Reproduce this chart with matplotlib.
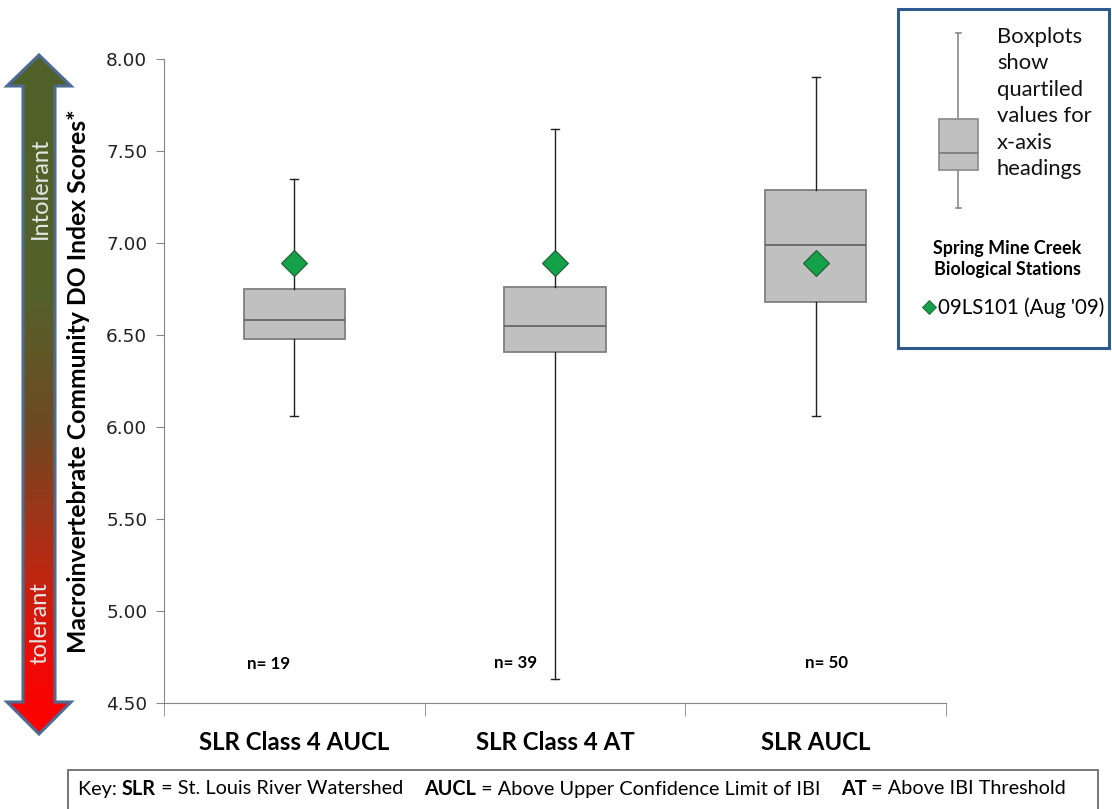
import numpy as np
import matplotlib
matplotlib.use("Agg")
import matplotlib.pyplot as plt
from matplotlib.patches import Polygon, Rectangle
from matplotlib.colors import LinearSegmentedColormap

# ---------------- data ----------------
categories = ["SLR Class 4 AUCL", "SLR Class 4 AT", "SLR AUCL"]
whisker_low = [6.06, 4.63, 6.06]
q1_values = [6.48, 6.41, 6.68]
medians = [6.58, 6.55, 6.99]
q3_values = [6.75, 6.76, 7.29]
whisker_high = [7.35, 7.62, 7.90]
station_scores = [6.89, 6.89, 6.89]
n_labels = ["n= 19", "n= 39", "n= 50"]
n_label_y = [4.71, 4.72, 4.72]
n_label_x_offset = [-0.1, -0.15, 0.04]
y_ticks = [4.5, 5.0, 5.5, 6.0, 6.5, 7.0, 7.5, 8.0]
station_label = "09LS101 (Aug '09)"
# schematic legend box (illustrative, in pixels)
legend_glyph = dict(whislo=208, q1=170, med=153, q3=119, whishi=33)

W, H = 1112, 809
fig = plt.figure(figsize=(W / 100, H / 100), dpi=100)
FONT = "Lato"

# ---------------- main axes ----------------
ax = fig.add_axes([164 / W, 1 - 703 / H, (946 - 164) / W, (703 - 59) / H])
stats = []
for i in range(3):
    stats.append(dict(whislo=whisker_low[i], q1=q1_values[i], med=medians[i],
                      q3=q3_values[i], whishi=whisker_high[i], fliers=[]))
positions = [1, 2, 3]
ax.bxp(stats, positions=positions, widths=0.39, patch_artist=True, showfliers=False,
       boxprops=dict(facecolor="#C0C0C0", edgecolor="#7F7F7F", linewidth=1.3),
       medianprops=dict(color="#5F5F5F", linewidth=1.2),
       whiskerprops=dict(color="#202020", linewidth=1.0),
       capprops=dict(color="#202020", linewidth=1.0), capwidths=0.03)
ax.plot(positions, station_scores, linestyle="none", marker="D", markersize=13,
        markerfacecolor="#15A04A", markeredgecolor="#1E5C32", markeredgewidth=0.8, zorder=5)
for i in range(3):
    ax.text(positions[i] + n_label_x_offset[i], n_label_y[i], n_labels[i],
            ha="center", va="center", fontsize=12.2, fontweight="bold", family=FONT)

ax.set_xlim(0.5, 3.5)
ax.set_ylim(4.5, 8.0)
ax.set_yticks(y_ticks)
ax.set_yticklabels([f"{v:.2f}" for v in y_ticks], fontsize=13.3, color="#222222")
ax.set_xticks(positions)
ax.set_xticklabels(categories, fontsize=17.3, fontweight="bold", family=FONT)
ax.set_xticks([0.5, 1.5, 2.5, 3.5], minor=True)
ax.tick_params(axis="x", which="major", length=0, pad=20)
ax.tick_params(axis="x", which="minor", length=9, color="#868686", direction="out")
ax.tick_params(axis="y", length=6, color="#868686", direction="out", pad=6)
for s in ["top", "right"]:
    ax.spines[s].set_visible(False)
for s in ["left", "bottom"]:
    ax.spines[s].set_color("#868686")

fig.text(79 / W, 1 - 381 / H, "Macroinvertebrate Community DO Index Scores*",
         rotation=90, ha="center", va="center", fontsize=17.8, fontweight="bold", family=FONT)

# ---------------- overlay in pixel coordinates ----------------
ov = fig.add_axes([0, 0, 1, 1], zorder=10)
ov.axis("off")
ov.patch.set_alpha(0)

# gradient arrow
arrow_pts = [(39, 55), (71, 86), (55, 86), (55, 702), (71, 702), (39, 734),
             (7, 702), (23, 702), (23, 86), (7, 86)]
cmap = LinearSegmentedColormap.from_list("tol", [
    (0.0, "#4F6228"), (0.35, "#54612A"), (0.55, "#6E4A22"),
    (0.75, "#B82A14"), (0.9, "#EE0A05"), (1.0, "#FF0000")])
grad = np.linspace(0, 1, 400)[:, None]
img = ov.imshow(grad, cmap=cmap, aspect="auto", extent=(7, 71, 734, 55),
                interpolation="bilinear", zorder=1)
poly = Polygon(arrow_pts, closed=True, facecolor="none", edgecolor="#4E6A93",
               linewidth=2.2, zorder=2)
ov.add_patch(poly)
img.set_clip_path(poly)
ov.text(40, 188, "Intolerant", rotation=90, ha="center", va="center",
        fontsize=17, color="#E6E6E6", family=FONT, zorder=3)
ov.text(40, 623, "tolerant", rotation=90, ha="center", va="center",
        fontsize=17, color="#E6E6E6", family=FONT, zorder=3)

# legend box
ov.add_patch(Rectangle((898, 9), 211, 339, facecolor="white", edgecolor="#2E5A8E",
                       linewidth=2.2, zorder=1))
ov.bxp([dict(legend_glyph, fliers=[])], positions=[958], widths=39, patch_artist=True,
       showfliers=False, manage_ticks=False,
       boxprops=dict(facecolor="#C0C0C0", edgecolor="#8A8A8A", linewidth=1.2),
       medianprops=dict(color="#777777", linewidth=1.2),
       whiskerprops=dict(color="#8A8A8A", linewidth=1.2),
       capprops=dict(color="#8A8A8A", linewidth=1.2), capwidths=5)
ov.text(997, 27, "Boxplots\nshow\nquartiled\nvalues for\nx-axis\nheadings", ha="left", va="top",
        fontsize=15.8, family=FONT, linespacing=1.4, color="#111111")
ov.text(1007, 259, "Spring Mine Creek\nBiological Stations", ha="center", va="center",
        fontsize=12.9, fontweight="bold", family=FONT, linespacing=1.3)
ov.plot([929], [307], marker="D", markersize=7.5, markerfacecolor="#15A04A",
        markeredgecolor="#1E5C32", markeredgewidth=0.6, linestyle="none")
ov.text(938, 308, station_label, ha="left", va="center", fontsize=14.8, family=FONT)

# key box
ov.add_patch(Rectangle((68, 770), 1030, 40, facecolor="white", edgecolor="#606060",
                       linewidth=1.2, zorder=1))
ov.set_xlim(0, W)
ov.set_ylim(H, 0)
pieces = [("Key: ", "normal"), ("SLR", "bold"), (" = St. Louis River Watershed    ", "normal"),
          ("AUCL", "bold"), (" = Above Upper Confidence Limit of IBI    ", "normal"),
          ("AT", "bold"), (" = Above IBI Threshold", "normal")]
fig.canvas.draw()
r = fig.canvas.get_renderer()
x = 78
for txt, wt in pieces:
    t = ov.text(x, 789, txt, ha="left", va="center", fontsize=14.3, fontweight=wt,
                family=FONT, zorder=3)
    bb = t.get_window_extent(renderer=r)
    x += bb.width  # 1 data unit == 1 pixel on the overlay

ov.set_xlim(0, W)
ov.set_ylim(H, 0)
fig.savefig("out.png", dpi=100)
